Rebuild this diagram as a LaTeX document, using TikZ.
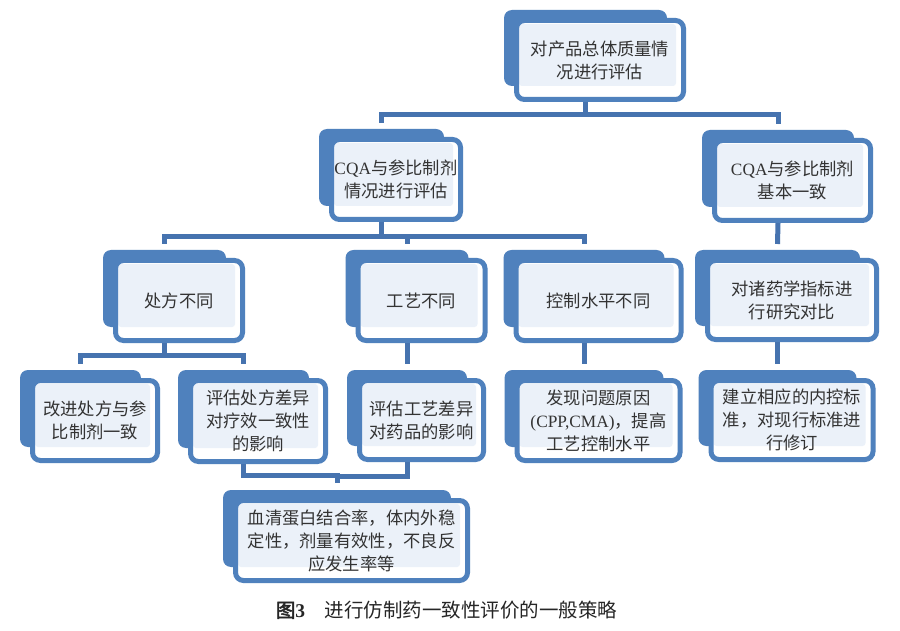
\documentclass[tikz,border=0pt]{standalone}
\usepackage{fontspec}
\setmainfont{Liberation Serif}
\newfontfamily\cjk[AutoFakeBold=2.5]{Noto Sans CJK SC}
\usetikzlibrary{calc}
\usetikzlibrary{backgrounds}

\definecolor{boksblaa}{HTML}{4F81BD}
\definecolor{linjeblaa}{HTML}{4673AF}
\definecolor{lysblaa}{HTML}{EBF1F9}
\definecolor{tekst}{HTML}{333333}

\begin{document}
\begin{tikzpicture}[x=1pt,y=-1pt]
\useasboundingbox (0,0) rectangle (900,631);
\tikzset{boks/.style={
           draw=boksblaa,
           line width=5pt,
           fill=white,
           rounded corners=8pt,
           inner sep=0pt,
           align=center,
           text=tekst,
           font=\cjk\fontsize{17.3}{23}\selectfont,
           path picture={\fill[lysblaa,rounded corners=3pt]
             ([xshift=2.5pt,yshift=-3.5pt]path picture bounding box.north west) rectangle
             ([xshift=-7.5pt,yshift=13.5pt]path picture bounding box.south east);},
           }
           }
\tikzset{linje/.style={
           draw=linjeblaa,
           line width=5pt,
           }
           }
%==========================================
\node[boks,minimum width=167pt,minimum height=79pt] (a) at (600,60) {对产品总体质量情\\况进行评估};
\node[boks,minimum width=129pt,minimum height=80pt] (b) at (396,179.5) {{\rmfamily CQA}与参比制剂\\情况进行评估};
\node[boks,minimum width=156pt,minimum height=80pt] (c) at (792.5,180.5) {{\rmfamily CQA}与参比制剂\\基本一致};
\node[boks,minimum width=127pt,minimum height=80pt] (d) at (179,300.5) {处方不同};
\node[boks,minimum width=127pt,minimum height=80pt] (e) at (421.5,300.5) {工艺不同};
\node[boks,minimum width=165pt,minimum height=80pt] (f) at (598.5,300.5) {控制水平不同};
\node[boks,minimum width=169pt,minimum height=79pt] (g) at (792,300) {对诸药学指标进\\行研究对比};
\node[boks,minimum width=125pt,minimum height=80pt] (i) at (95,420.5) {改进处方与参\\比制剂一致};
\node[boks,minimum width=135pt,minimum height=81pt] (j) at (258,421) {评估处方差异\\对疗效一致性\\的影响};
\node[boks,minimum width=124pt,minimum height=79pt] (k) at (421.5,420) {评估工艺差异\\对药品的影响};
\node[boks,minimum width=163pt,minimum height=80pt] (l) at (598.5,420.5) {发现问题原因\\{\rmfamily (CPP,CMA)}，提高\\工艺控制水平};
\node[boks,minimum width=162pt,minimum height=79pt] (h) at (792,420) {建立相应的内控标\\准，对现行标准进\\行修订};
\node[boks,minimum width=232pt,minimum height=80pt] (m) at (351.5,540.5) {血清蛋白结合率，体内外稳\\定性，剂量有效性，不良反\\应发生率等};
%==========================================
\begin{scope}[on background layer]
\fill[white] (0,0) rectangle (900,631);
\fill[boksblaa,rounded corners=8pt] ([xshift=-10pt,yshift=8pt]a.north west) rectangle ([xshift=-19pt,yshift=16pt]a.south east);
\fill[boksblaa,rounded corners=8pt] ([xshift=-10pt,yshift=8pt]b.north west) rectangle ([xshift=-19pt,yshift=16pt]b.south east);
\fill[boksblaa,rounded corners=8pt] ([xshift=-10pt,yshift=8pt]c.north west) rectangle ([xshift=-19pt,yshift=16pt]c.south east);
\fill[boksblaa,rounded corners=8pt] ([xshift=-10pt,yshift=8pt]d.north west) rectangle ([xshift=-19pt,yshift=16pt]d.south east);
\fill[boksblaa,rounded corners=8pt] ([xshift=-10pt,yshift=8pt]e.north west) rectangle ([xshift=-19pt,yshift=16pt]e.south east);
\fill[boksblaa,rounded corners=8pt] ([xshift=-10pt,yshift=8pt]f.north west) rectangle ([xshift=-19pt,yshift=16pt]f.south east);
\fill[boksblaa,rounded corners=8pt] ([xshift=-10pt,yshift=8pt]g.north west) rectangle ([xshift=-19pt,yshift=16pt]g.south east);
\fill[boksblaa,rounded corners=8pt] ([xshift=-10pt,yshift=8pt]h.north west) rectangle ([xshift=-19pt,yshift=16pt]h.south east);
\fill[boksblaa,rounded corners=8pt] ([xshift=-10pt,yshift=8pt]i.north west) rectangle ([xshift=-19pt,yshift=16pt]i.south east);
\fill[boksblaa,rounded corners=8pt] ([xshift=-10pt,yshift=8pt]j.north west) rectangle ([xshift=-19pt,yshift=16pt]j.south east);
\fill[boksblaa,rounded corners=8pt] ([xshift=-10pt,yshift=8pt]k.north west) rectangle ([xshift=-19pt,yshift=16pt]k.south east);
\fill[boksblaa,rounded corners=8pt] ([xshift=-10pt,yshift=8pt]l.north west) rectangle ([xshift=-19pt,yshift=16pt]l.south east);
\fill[boksblaa,rounded corners=8pt] ([xshift=-10pt,yshift=8pt]m.north west) rectangle ([xshift=-19pt,yshift=16pt]m.south east);
\end{scope}
%==========================================
\draw[linje] ([xshift=-14.5pt]a.south) -- ++(0,13) -| ([xshift=-14.5pt,yshift=14pt]b.north);
\draw[linje] ([xshift=-14.5pt]a.south) -- ++(0,13) -| ([xshift=-14.5pt,yshift=14pt]c.north);
\draw[linje] ([xshift=-14.5pt]b.south) -- ++(0,15) -| ([xshift=-14.5pt,yshift=14pt]d.north);
\draw[linje] ([xshift=-14.5pt]b.south) -- ++(0,15) -| ([xshift=-14.5pt,yshift=14pt]e.north);
\draw[linje] ([xshift=-14.5pt]b.south) -- ++(0,15) -| ([xshift=-14.5pt,yshift=14pt]f.north);
\draw[linje] ([xshift=-14.5pt]c.south) -- ([xshift=-14.5pt,yshift=14pt]g.north);
\draw[linje] ([xshift=-14.5pt]d.south) -- ++(0,12) -| ([xshift=-14.5pt,yshift=14pt]i.north);
\draw[linje] ([xshift=-14.5pt]d.south) -- ++(0,12) -| ([xshift=-14.5pt,yshift=14pt]j.north);
\draw[linje] ([xshift=-14.5pt]e.south) -- ([xshift=-14.5pt,yshift=14pt]k.north);
\draw[linje] ([xshift=-14.5pt]f.south) -- ([xshift=-14.5pt,yshift=14pt]l.north);
\draw[linje] ([xshift=-14.5pt]g.south) -- ([xshift=-14.5pt,yshift=14pt]h.north);
\draw[linje] ([xshift=-14.5pt]j.south) -- ++(0,11) -| ([xshift=-14.5pt,yshift=15pt]m.north);
\draw[linje] ([xshift=-14.5pt]k.south) -- ++(0,14) -| ([xshift=-14.5pt,yshift=15pt]m.north);
%==========================================
\node[font=\cjk\fontsize{19.5}{23}\selectfont,text=black!85] (tittel) at (446.5,610) {\textbf{图{\rmfamily 3}}\quad 进行仿制药一致性评价的一般策略};
\end{tikzpicture}
\end{document}
